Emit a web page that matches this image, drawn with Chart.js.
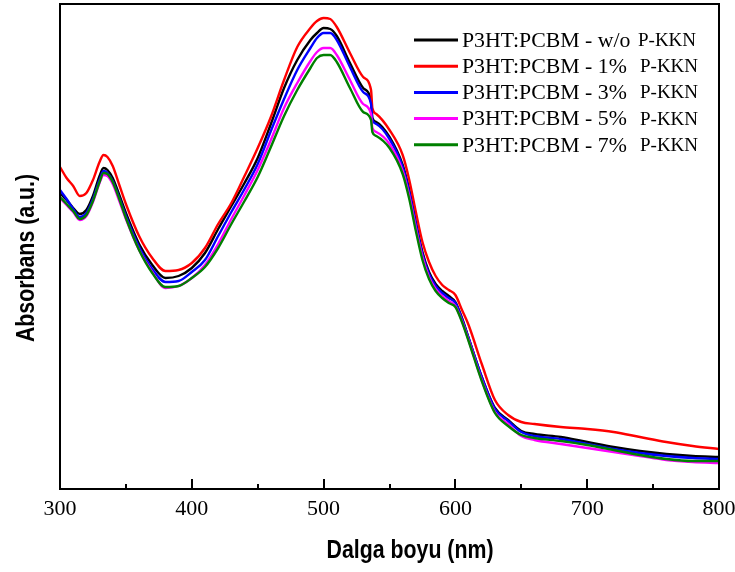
<!DOCTYPE html>
<html>
<head>
<meta charset="utf-8">
<script src="https://cdn.jsdelivr.net/npm/chart.js@4.4.1/dist/chart.umd.min.js"></script>
<style>
  html, body { margin: 0; padding: 0; background: #ffffff; }
  #wrap { width: 735px; height: 572px; position: relative; }
</style>
</head>
<body>
<div id="wrap"><canvas id="c" width="735" height="572"></canvas></div>
<script>
// Wavelength grid (nm)
const wavelength = [300, 305, 310, 315, 320, 325, 330, 333, 336, 340, 345, 350, 360, 370, 380, 390, 400, 410, 420, 430, 440, 450, 460, 470, 480, 490, 495, 500, 505, 510, 520, 530, 536, 537, 540, 550, 560, 565, 570, 575, 580, 585, 590, 595, 600, 605, 610, 620, 630, 640, 650, 660, 680, 700, 720, 740, 760, 780, 800];

// Absorbance (a.u.) for each film
const absWithout = [2.96, 2.89, 2.81, 2.75, 2.79, 2.93, 3.13, 3.21, 3.19, 3.11, 2.94, 2.76, 2.45, 2.24, 2.11, 2.13, 2.21, 2.36, 2.60, 2.83, 3.06, 3.31, 3.65, 4.01, 4.29, 4.49, 4.56, 4.61, 4.60, 4.53, 4.26, 4.01, 3.88, 3.71, 3.67, 3.52, 3.24, 2.99, 2.67, 2.37, 2.17, 2.05, 1.98, 1.93, 1.87, 1.71, 1.51, 1.12, 0.81, 0.69, 0.58, 0.55, 0.52, 0.47, 0.42, 0.38, 0.35, 0.33, 0.32];
const abs1 = [3.22, 3.11, 3.03, 2.93, 2.96, 3.09, 3.27, 3.34, 3.32, 3.23, 3.04, 2.85, 2.53, 2.31, 2.18, 2.19, 2.26, 2.41, 2.65, 2.86, 3.13, 3.41, 3.72, 4.09, 4.42, 4.61, 4.68, 4.71, 4.70, 4.62, 4.36, 4.12, 3.99, 3.81, 3.75, 3.59, 3.34, 3.09, 2.77, 2.47, 2.27, 2.13, 2.04, 1.99, 1.94, 1.79, 1.64, 1.25, 0.89, 0.74, 0.67, 0.65, 0.62, 0.60, 0.57, 0.52, 0.47, 0.43, 0.40];
const abs3 = [2.99, 2.90, 2.80, 2.72, 2.76, 2.90, 3.09, 3.18, 3.16, 3.08, 2.91, 2.73, 2.42, 2.20, 2.07, 2.08, 2.17, 2.29, 2.53, 2.77, 3.00, 3.25, 3.58, 3.90, 4.19, 4.41, 4.51, 4.56, 4.56, 4.49, 4.22, 3.97, 3.85, 3.69, 3.65, 3.50, 3.22, 2.97, 2.65, 2.35, 2.15, 2.03, 1.96, 1.91, 1.86, 1.70, 1.51, 1.12, 0.80, 0.68, 0.57, 0.53, 0.50, 0.45, 0.40, 0.36, 0.33, 0.31, 0.30];
const abs5 = [2.91, 2.84, 2.77, 2.69, 2.73, 2.87, 3.06, 3.14, 3.13, 3.05, 2.88, 2.70, 2.39, 2.17, 2.01, 2.03, 2.11, 2.24, 2.45, 2.70, 2.94, 3.19, 3.49, 3.81, 4.06, 4.28, 4.37, 4.41, 4.41, 4.34, 4.09, 3.85, 3.75, 3.61, 3.57, 3.45, 3.18, 2.93, 2.61, 2.32, 2.12, 2.00, 1.93, 1.88, 1.83, 1.68, 1.49, 1.09, 0.77, 0.65, 0.53, 0.49, 0.45, 0.41, 0.37, 0.33, 0.29, 0.27, 0.26];
const abs7 = [2.92, 2.85, 2.78, 2.70, 2.74, 2.88, 3.07, 3.16, 3.15, 3.07, 2.90, 2.71, 2.39, 2.16, 2.02, 2.03, 2.11, 2.22, 2.41, 2.65, 2.88, 3.12, 3.42, 3.73, 3.99, 4.21, 4.31, 4.34, 4.34, 4.27, 4.01, 3.77, 3.69, 3.57, 3.53, 3.41, 3.15, 2.90, 2.58, 2.29, 2.10, 1.98, 1.91, 1.86, 1.82, 1.67, 1.48, 1.08, 0.76, 0.63, 0.54, 0.51, 0.48, 0.44, 0.39, 0.34, 0.30, 0.28, 0.28];

const seriesNames = ['P3HT:PCBM - w/o', 'P3HT:PCBM - 1%', 'P3HT:PCBM - 3%', 'P3HT:PCBM - 5%', 'P3HT:PCBM - 7%'];
const additive = 'P-KKN';
const seriesColors = ['#000000', '#ff0000', '#0000ff', '#ff00ff', '#008000'];
const seriesValues = [absWithout, abs1, abs3, abs5, abs7];

const xTitle = 'Dalga boyu (nm)';
const yTitle = 'Absorbans (a.u.)';

const datasets = seriesValues.map((vals, i) => ({
  label: seriesNames[i] + '  ' + additive,
  data: wavelength.map((w, k) => ({ x: w, y: vals[k] })),
  borderColor: seriesColors[i],
  borderWidth: 2.4,
  pointRadius: 0,
  fill: false,
  cubicInterpolationMode: 'monotone',
  order: seriesValues.length - i
}));

// Box frame, inward bottom ticks, axis titles and the legend
const decorations = {
  id: 'decorations',
  afterDraw(chart) {
    const ctx = chart.ctx;
    const a = chart.chartArea;
    const xs = chart.scales.x;
    ctx.save();
    ctx.strokeStyle = '#000';
    ctx.lineWidth = 2;
    ctx.strokeRect(a.left, a.top, a.right - a.left, a.bottom - a.top);
    // inward ticks on the bottom axis
    for (let v = xs.min; v <= xs.max; v += 50) {
      const px = Math.round(xs.getPixelForValue(v));
      const len = (v % 100 === 0) ? 10 : 5;
      ctx.beginPath();
      ctx.moveTo(px, a.bottom);
      ctx.lineTo(px, a.bottom - len);
      ctx.stroke();
    }
    // axis titles (condensed bold sans)
    ctx.fillStyle = '#000';
    ctx.font = 'bold 26px "Liberation Sans", Arial, sans-serif';
    ctx.textAlign = 'center';
    ctx.textBaseline = 'middle';
    ctx.save();
    ctx.translate(410, 551);
    ctx.scale(0.82, 1);
    ctx.fillText(xTitle, 0, 0);
    ctx.restore();
    ctx.save();
    ctx.translate(27, 258);
    ctx.rotate(-Math.PI / 2);
    ctx.scale(0.82, 1);
    ctx.fillText(yTitle, 0, 0);
    ctx.restore();
    // legend
    const y0 = 40, dy = 26.2;
    ctx.textAlign = 'left';
    ctx.textBaseline = 'middle';
    chart.data.datasets.forEach((ds, i) => {
      const y = y0 + i * dy;
      ctx.strokeStyle = ds.borderColor;
      ctx.lineWidth = 3;
      ctx.beginPath();
      ctx.moveTo(414, y);
      ctx.lineTo(458, y);
      ctx.stroke();
      ctx.fillStyle = '#000';
      ctx.font = '21.8px "Liberation Serif", "Times New Roman", serif';
      ctx.fillText(seriesNames[i], 462, y + 1);
      ctx.font = '19px "Liberation Serif", "Times New Roman", serif';
      ctx.fillText(additive, i === 0 ? 638 : 640, y + 1);
    });
    ctx.restore();
  }
};

new Chart(document.getElementById('c'), {
  type: 'line',
  data: { datasets },
  options: {
    responsive: false,
    animation: false,
    events: [],
    layout: { padding: { left: 60, right: 16, top: 4, bottom: 0 } },
    plugins: { legend: { display: false }, tooltip: { enabled: false } },
    scales: {
      x: {
        type: 'linear',
        min: 300,
        max: 800,
        grid: { display: false, drawTicks: false },
        border: { display: false },
        ticks: {
          stepSize: 100,
          maxRotation: 0,
          padding: 7,
          color: '#000',
          font: { family: '"Liberation Serif", "Times New Roman", serif', size: 22 }
        },
        afterFit(scale) {
          scale.height = 83;
          scale.paddingLeft = 0;
          scale.paddingRight = 0;
        }
      },
      y: {
        display: false,
        min: 0,
        max: 4.85
      }
    }
  },
  plugins: [decorations]
});
</script>
</body>
</html>
